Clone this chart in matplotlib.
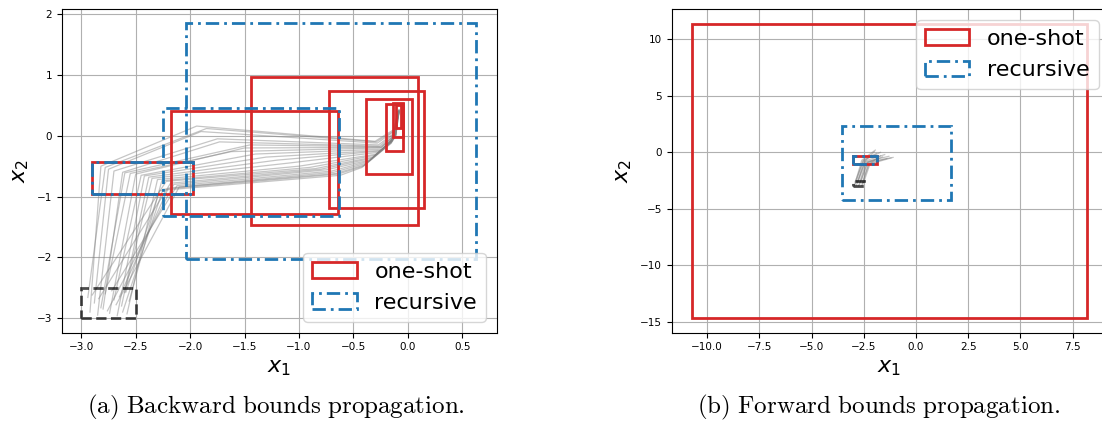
import matplotlib
matplotlib.use("Agg")
import matplotlib.pyplot as plt
from matplotlib.patches import Rectangle

plt.rcParams['mathtext.fontset'] = 'dejavusans'

# boxes as [xmin, xmax, ymin, ymax]
target_box = [-3.0, -2.5, -3.0, -2.5]

bwd_oneshot = [[-2.90, -1.97, -0.95, -0.43],
               [-2.18, -0.64, -1.28, 0.41],
               [-1.44, 0.095, -1.47, 0.96],
               [-0.72, 0.15, -1.19, 0.74],
               [-0.38, 0.04, -0.63, 0.61],
               [-0.20, -0.04, -0.25, 0.53],
               [-0.135, -0.045, -0.02, 0.54],
               [-0.11, -0.06, 0.13, 0.51]]
bwd_recursive = [[-2.90, -1.97, -0.95, -0.43],
                 [-2.25, -0.63, -1.32, 0.45],
                 [-2.04, 0.63, -2.03, 1.85]]

fwd_oneshot = [[-3.0, -1.85, -1.05, -0.30],
               [-10.75, 8.20, -14.65, 11.34]]
fwd_recursive = [[-3.0, -1.85, -1.05, -0.30],
                 [-3.55, 1.68, -4.19, 2.37]]

# sampled trajectories (left panel)
bwd_traj_x = [[-2.92, -2.82, -1.94, -0.30, -0.13, -0.08],
              [-2.88, -2.75, -1.90, -0.28, -0.12, -0.08],
              [-2.85, -2.70, -1.75, -0.27, -0.12, -0.09],
              [-2.80, -2.62, -1.73, -0.26, -0.12, -0.08],
              [-2.78, -2.55, -1.62, -0.25, -0.11, -0.08],
              [-2.74, -2.50, -1.50, -0.24, -0.11, -0.09],
              [-2.70, -2.45, -1.40, -0.23, -0.11, -0.08],
              [-2.67, -2.42, -1.30, -0.24, -0.11, -0.09],
              [-2.63, -2.38, -1.20, -0.25, -0.11, -0.08],
              [-2.60, -2.35, -1.10, -0.26, -0.12, -0.09],
              [-2.58, -2.30, -1.00, -0.28, -0.12, -0.08],
              [-2.56, -2.26, -0.90, -0.30, -0.13, -0.09],
              [-2.90, -2.22, -0.85, -0.32, -0.13, -0.08],
              [-2.84, -2.18, -0.80, -0.33, -0.13, -0.09],
              [-2.76, -2.15, -0.75, -0.35, -0.14, -0.08],
              [-2.72, -2.12, -0.70, -0.36, -0.14, -0.09],
              [-2.68, -2.10, -0.68, -0.38, -0.14, -0.08],
              [-2.65, -2.20, -0.66, -0.40, -0.15, -0.09],
              [-2.62, -2.25, -0.64, -0.41, -0.15, -0.08],
              [-2.59, -2.28, -0.62, -0.42, -0.15, -0.09],
              [-2.94, -2.78, -1.85, -0.29, -0.12, -0.08],
              [-2.82, -2.60, -1.45, -0.25, -0.11, -0.09]]
bwd_traj_y = [[-2.90, -0.50, 0.16, -0.09, 0.10, 0.42],
              [-2.75, -0.55, 0.07, -0.12, 0.08, 0.40],
              [-2.95, -0.58, -0.05, -0.15, 0.05, 0.38],
              [-2.85, -0.60, -0.10, -0.17, 0.04, 0.41],
              [-2.60, -0.62, -0.26, -0.20, 0.02, 0.39],
              [-2.92, -0.63, -0.20, -0.19, 0.03, 0.40],
              [-2.70, -0.65, -0.30, -0.22, 0.01, 0.42],
              [-2.96, -0.66, -0.35, -0.24, 0.00, 0.38],
              [-2.80, -0.68, -0.40, -0.25, 0.00, 0.40],
              [-2.58, -0.70, -0.45, -0.27, -0.02, 0.39],
              [-2.93, -0.72, -0.50, -0.30, -0.03, 0.41],
              [-2.72, -0.74, -0.52, -0.32, -0.04, 0.38],
              [-2.62, -0.75, -0.54, -0.35, -0.05, 0.40],
              [-2.68, -0.78, -0.55, -0.37, -0.06, 0.39],
              [-2.88, -0.80, -0.56, -0.40, -0.07, 0.42],
              [-2.55, -0.82, -0.58, -0.42, -0.08, 0.40],
              [-2.78, -0.84, -0.60, -0.45, -0.09, 0.38],
              [-2.65, -0.86, -0.62, -0.48, -0.10, 0.41],
              [-2.90, -0.88, -0.63, -0.50, -0.11, 0.39],
              [-2.57, -0.90, -0.65, -0.52, -0.12, 0.40],
              [-2.66, -0.52, 0.12, -0.10, 0.09, 0.43],
              [-2.83, -0.61, -0.15, -0.18, 0.03, 0.40]]

# sampled trajectories (right panel)
fwd_traj_x = [[-2.95, -2.60, -1.95], [-2.90, -2.55, -1.70], [-2.85, -2.50, -1.50],
              [-2.80, -2.45, -1.30], [-2.75, -2.40, -1.10], [-2.70, -2.35, -1.60],
              [-2.65, -2.30, -1.80], [-2.60, -2.28, -1.40], [-2.58, -2.25, -1.20],
              [-2.55, -2.20, -1.70], [-2.92, -2.50, -1.90], [-2.78, -2.42, -2.00]]
fwd_traj_y = [[-2.95, -0.70, 0.20], [-2.80, -0.75, 0.00], [-2.90, -0.80, -0.20],
              [-2.70, -0.85, -0.35], [-2.95, -0.90, -0.45], [-2.85, -0.95, -0.40],
              [-2.60, -0.85, -0.50], [-2.92, -1.00, -0.55], [-2.75, -1.05, -0.50],
              [-2.88, -1.00, -0.30], [-2.62, -0.65, -0.10], [-2.55, -0.72, 0.05]]

red = '#d62728'
blue = '#1f77b4'
dashdot = (0, (4.8, 1.8, 1.0, 1.8))


def box(ax, b, **kw):
    r = Rectangle((b[0], b[2]), b[1] - b[0], b[3] - b[2], fill=False, **kw)
    ax.add_patch(r)
    return r


def draw_panel(ax, tx, ty, oneshot, recursive):
    for xs, ys in zip(tx, ty):
        ax.plot(xs, ys, color='gray', alpha=0.45, lw=0.9, zorder=1)
    box(ax, target_box, edgecolor='k', alpha=0.7, ls='--', lw=2, zorder=2)
    h1 = None
    for b in oneshot:
        h1 = box(ax, b, edgecolor=red, lw=2, zorder=3, label='one-shot')
    h2 = None
    for b in recursive:
        h2 = box(ax, b, edgecolor=blue, lw=2, ls=dashdot, zorder=4, label='recursive')
    ax.grid(True, zorder=0)
    ax.set_axisbelow(True)
    ax.tick_params(labelsize=7.5)
    ax.set_xlabel('$x_1$', fontsize=16)
    ax.set_ylabel('$x_2$', fontsize=16)
    return h1, h2


fig = plt.figure(figsize=(11.02, 4.21), dpi=100)

ax1 = fig.add_axes([0.056, 0.2097, 0.395, 0.768])
h1, h2 = draw_panel(ax1, bwd_traj_x, bwd_traj_y, bwd_oneshot, bwd_recursive)
ax1.set_xlim(-3.18, 0.82)
ax1.set_ylim(-3.24, 2.08)
ax1.legend([h1, h2], ['one-shot', 'recursive'], loc='lower right', fontsize=16)

ax2 = fig.add_axes([0.6095, 0.2097, 0.395, 0.768])
h1, h2 = draw_panel(ax2, fwd_traj_x, fwd_traj_y, fwd_oneshot, fwd_recursive)
ax2.set_xlim(-11.7, 9.14)
ax2.set_ylim(-15.95, 12.64)
ax2.legend([h1, h2], ['one-shot', 'recursive'], loc='upper left',
           bbox_to_anchor=(0.5616, 0.967), borderaxespad=0, fontsize=16)

fig.text(0.2505, 0.031, r'$\mathrm{(a)\ Backward\ bounds\ propagation.}$',
         ha='center', va='center', fontsize=18, math_fontfamily='cm')
fig.text(0.797, 0.031, r'$\mathrm{(b)\ Forward\ bounds\ propagation.}$',
         ha='center', va='center', fontsize=18, math_fontfamily='cm')

fig.savefig('out.png', dpi=100)
